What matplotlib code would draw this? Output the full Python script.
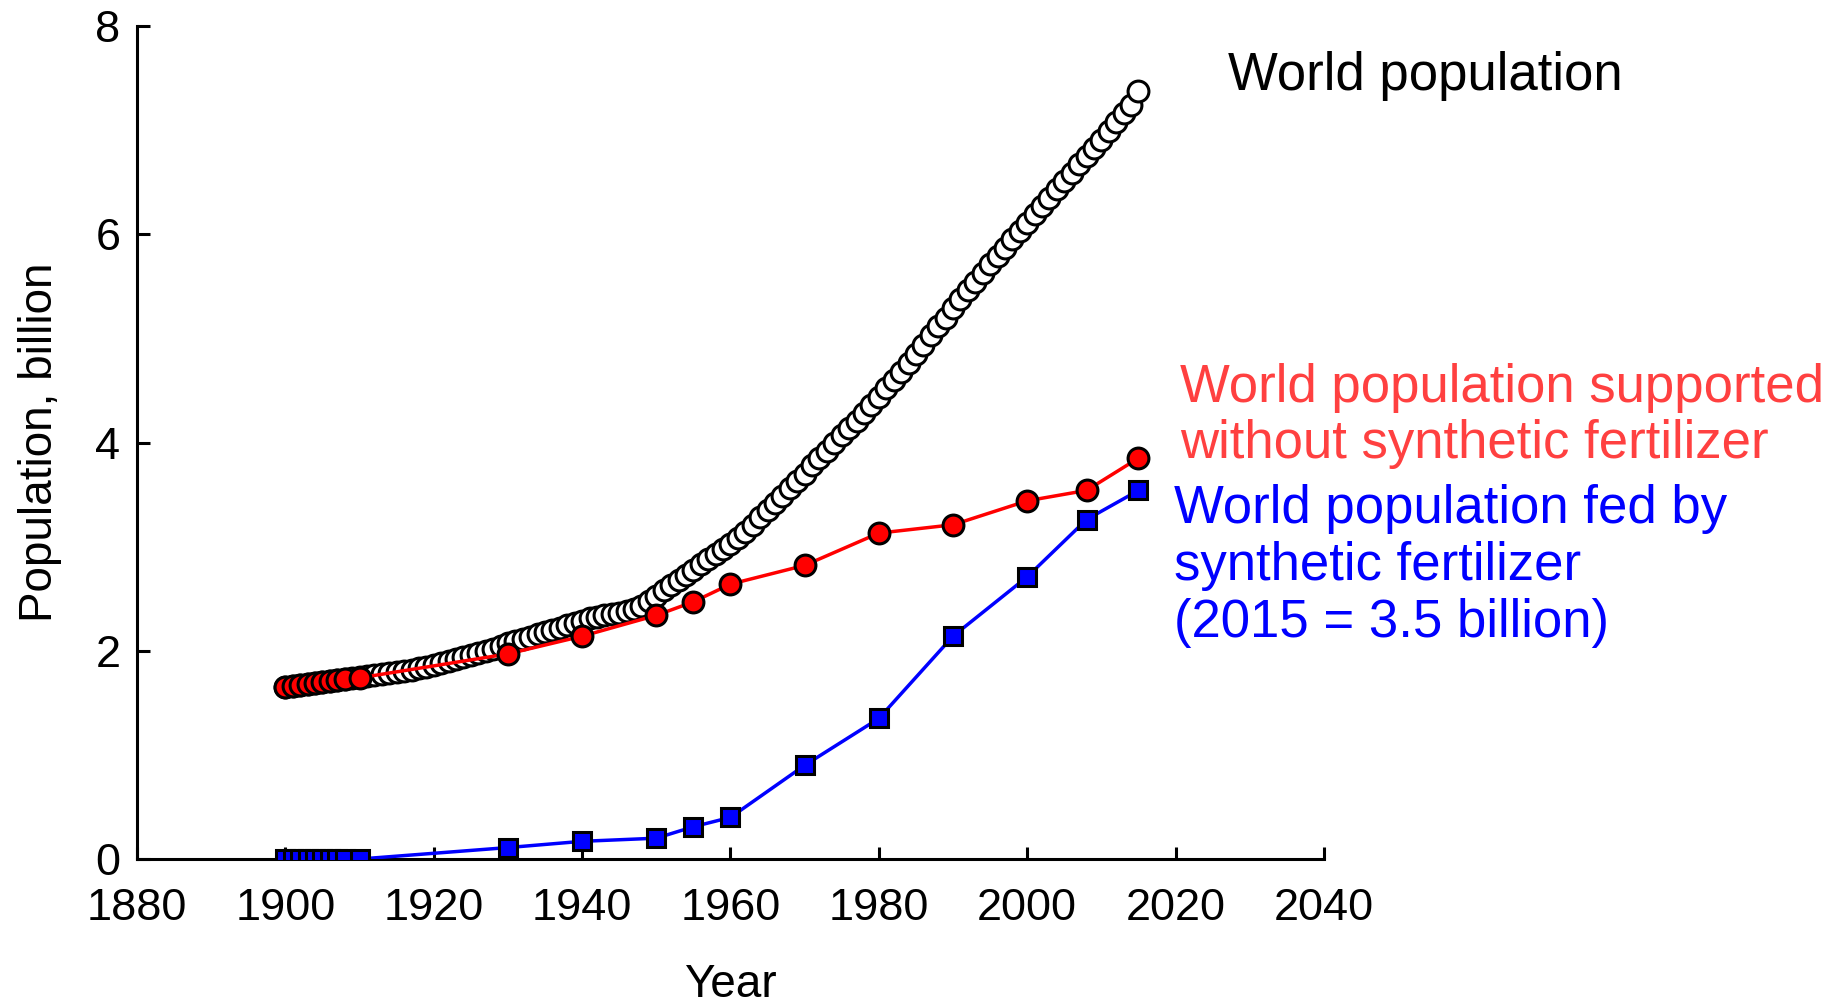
import matplotlib
matplotlib.use("Agg")
import matplotlib.pyplot as plt

plt.rcParams["font.family"] = ["Liberation Sans", "DejaVu Sans"]

# world population, every year 1900-2015 (billion)
world_years = list(range(1900, 2016))
world_pop = [
    1.65, 1.66, 1.67, 1.68, 1.69, 1.70, 1.71, 1.72, 1.73, 1.74,
    1.75, 1.76, 1.77, 1.78, 1.79, 1.80, 1.81, 1.82, 1.83, 1.845,
    1.86, 1.88, 1.90, 1.92, 1.94, 1.96, 1.98, 2.00, 2.02, 2.045,
    2.07, 2.09, 2.11, 2.13, 2.16, 2.18, 2.20, 2.22, 2.25, 2.27,
    2.29, 2.31, 2.32, 2.34, 2.35, 2.36, 2.38, 2.40, 2.43, 2.48,
    2.53, 2.58, 2.63, 2.68, 2.73, 2.78, 2.83, 2.88, 2.93, 2.98,
    3.03, 3.08, 3.14, 3.21, 3.28, 3.35, 3.42, 3.49, 3.56, 3.63,
    3.70, 3.78, 3.85, 3.92, 4.00, 4.07, 4.14, 4.21, 4.28, 4.36,
    4.44, 4.52, 4.60, 4.68, 4.76, 4.85, 4.94, 5.03, 5.12, 5.20,
    5.29, 5.38, 5.46, 5.54, 5.63, 5.71, 5.79, 5.87, 5.95, 6.03,
    6.11, 6.19, 6.27, 6.35, 6.43, 6.51, 6.59, 6.67, 6.75, 6.83,
    6.91, 6.99, 7.08, 7.16, 7.24, 7.38,
]

# years with fertilizer estimates
fert_years = [1900, 1901, 1902, 1903, 1904, 1905, 1906, 1907, 1908, 1910,
              1930, 1940, 1950, 1955, 1960, 1970, 1980, 1990, 2000, 2008, 2015]

without_fert = [1.65, 1.66, 1.67, 1.68, 1.69, 1.70, 1.71, 1.72, 1.73, 1.74,
                1.97, 2.14, 2.34, 2.47, 2.64, 2.82, 3.13, 3.21, 3.44, 3.54, 3.85]

fed_by_fert = [0, 0, 0, 0, 0, 0, 0, 0, 0, 0,
               0.11, 0.17, 0.20, 0.31, 0.40, 0.90, 1.35, 2.14, 2.71, 3.26, 3.54]

x_ticks = [1880, 1900, 1920, 1940, 1960, 1980, 2000, 2020, 2040]
y_ticks = [0, 2, 4, 6, 8]

fig = plt.figure(figsize=(18.37, 10.08), dpi=100)
ax = fig.add_axes([0.0746, 0.1478, 0.6461, 0.8264])

ax.plot(world_years, world_pop, linestyle="none", marker="o", markersize=15,
        markerfacecolor="white", markeredgecolor="black", markeredgewidth=2.2,
        zorder=2)
ax.plot(fert_years, fed_by_fert, color="blue", linewidth=2.5, marker="s",
        markersize=13, markerfacecolor="blue", markeredgecolor="black",
        markeredgewidth=2.2, zorder=3)
ax.plot(fert_years, without_fert, color="red", linewidth=2.5, marker="o",
        markersize=15, markerfacecolor="red", markeredgecolor="black",
        markeredgewidth=2.2, zorder=4)

ax.set_xlim(1880, 2040)
ax.set_ylim(0, 8)
ax.set_xticks(x_ticks)
ax.set_yticks(y_ticks)

for side in ["top", "right"]:
    ax.spines[side].set_visible(False)
for side in ["left", "bottom"]:
    ax.spines[side].set_linewidth(2.2)

ax.tick_params(axis="both", direction="in", length=9, width=2.2, labelsize=32.5)
ax.tick_params(axis="x", pad=21)
ax.tick_params(axis="y", pad=12)

ax.set_xlabel("Year", fontsize=33, labelpad=24)
ax.set_ylabel("Population, billion", fontsize=33, labelpad=24)

fig.text(1228 / 1837, 1 - 76 / 1008, "World population", fontsize=38,
         color="black", va="center", ha="left")
fig.text(1180 / 1837, 1 - 416 / 1008,
         "World population supported\nwithout synthetic fertilizer",
         fontsize=38, color="#ff4040", va="center", ha="left", linespacing=1.17)
fig.text(1174 / 1837, 1 - 566 / 1008,
         "World population fed by\nsynthetic fertilizer\n(2015 = 3.5 billion)",
         fontsize=38, color="blue", va="center", ha="left", linespacing=1.17)

fig.savefig("out.png", dpi=100)
plt.close(fig)
